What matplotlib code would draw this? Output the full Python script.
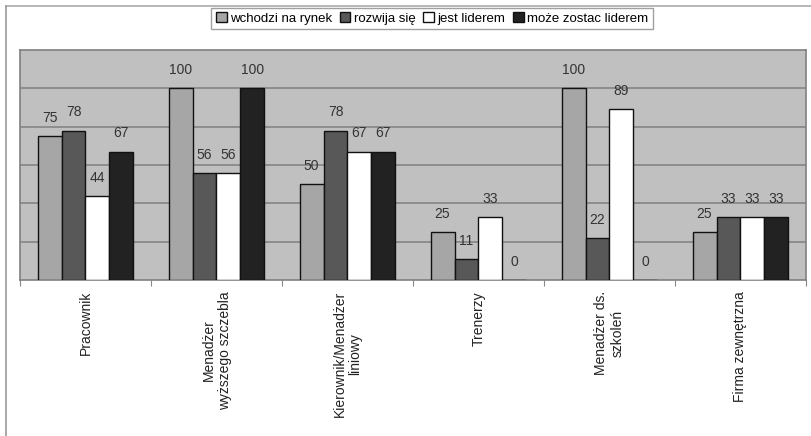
import matplotlib.pyplot as plt
import numpy as np
from matplotlib.lines import Line2D

plt.rcParams['font.family'] = ['Liberation Sans', 'DejaVu Sans']

categories = ['Pracownik', 'Menadżer\nwyższego szczebla', 'Kierownik/Menadżer\nliniowy',
              'Trenerzy', 'Menadżer ds.\nszkoleń', 'Firma zewnętrzna']
series_names = ['wchodzi na rynek', 'rozwija się', 'jest liderem', 'może zostac liderem']
wchodzi = [75, 100, 50, 25, 100, 25]
rozwija = [78, 56, 78, 11, 22, 33]
lider = [44, 56, 67, 33, 89, 33]
moze = [67, 100, 67, 0, 0, 33]
colors = ['#a6a6a6', '#585858', '#ffffff', '#222222']

fig = plt.figure(figsize=(8.12, 4.36), dpi=100)
ax = fig.add_axes([20 / 812, 1 - 280 / 436, 786 / 812, 230 / 436])
ax.set_facecolor('#c0c0c0')

x = np.arange(len(categories))
w = 0.183
for k, (vals, col, name) in enumerate(zip([wchodzi, rozwija, lider, moze], colors, series_names)):
    pos = x + (k - 1.5) * w
    bars = ax.bar(pos, vals, w, color=col, edgecolor='#111111', linewidth=1.0,
                  label=name, zorder=3)
    for b, v in zip(bars, vals):
        ax.annotate(str(v), (b.get_x() + b.get_width() / 2, v), xytext=(0, 8),
                    textcoords='offset points', ha='center', va='bottom',
                    fontsize=10, color='#333333', zorder=4)

ax.set_xlim(-0.5, len(categories) - 0.5)
ax.set_ylim(0, 120)
ax.set_yticks(np.arange(20, 120, 20))
ax.yaxis.grid(True, color='#858585', linewidth=1.2, zorder=0)
ax.tick_params(axis='y', left=False, labelleft=False)

ax.set_xticks(np.arange(-0.5, len(categories), 1.0), minor=False)
ax.set_xticklabels([])
ax.tick_params(axis='x', direction='out', length=4, color='#888888')
ax.set_xticks(x, minor=True)
ax.set_xticklabels(categories, minor=True, rotation=90, ha='center', va='top',
                   multialignment='center', fontsize=10, color='#222222')
ax.tick_params(axis='x', which='minor', length=0, pad=8)

for sp in ax.spines.values():
    sp.set_color('#808080')
    sp.set_linewidth(1.2)

leg = fig.legend(loc='center', bbox_to_anchor=(432 / 812, 1 - 18.5 / 436), ncol=4,
                 fontsize=9.5, frameon=True, fancybox=False, edgecolor='#888888',
                 handlelength=0.8, handleheight=0.8, handletextpad=0.25,
                 columnspacing=0.6, borderpad=0.35)
leg.get_frame().set_linewidth(1.0)

# outer frame lines (top and left)
fig.add_artist(Line2D([6 / 812, 1], [1 - 6 / 436, 1 - 6 / 436], color='#aaaaaa', linewidth=1.2))
fig.add_artist(Line2D([6 / 812, 6 / 812], [0, 1 - 6 / 436], color='#999999', linewidth=1.2))

fig.savefig('out.png', dpi=100)
